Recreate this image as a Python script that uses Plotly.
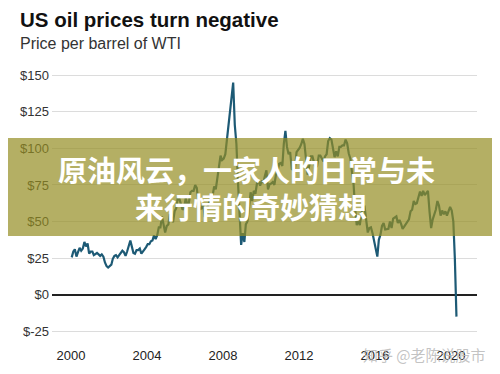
import pandas as pd
import plotly.graph_objects as go

# Monthly WTI price per barrel (USD), Jan 2000 .. Apr 2020
wti_2000 = [25.5, 29.5, 31, 26, 29, 32, 30, 31.5, 36, 33, 35, 28]
wti_2001 = [29.5, 29.5, 27, 27.5, 28.5, 27.5, 26.5, 27.5, 26, 22, 19.5, 18.5]
wti_2002 = [19.5, 20.5, 24.5, 26.5, 27, 25.5, 27, 28.5, 30, 29, 26.5, 29.5]
wti_2003 = [33, 37, 33, 28.5, 28, 30.5, 30.5, 31.5, 28, 30, 31, 32.5]
wti_2004 = [34.5, 34.5, 36.5, 37, 40.5, 38, 40.5, 46, 46, 53.5, 48.5, 42.5]
wti_2005 = [47, 48, 55, 53, 49.5, 57, 59, 66, 65.5, 62, 58, 59.5]
wti_2006 = [66, 61.5, 62.5, 70, 71, 71, 75, 73, 63, 58.5, 59, 62]
wti_2007 = [53, 59, 60.5, 64, 63.5, 67.5, 74, 72, 80, 86, 95, 92]
wti_2008 = [93, 96, 106, 113, 126, 135, 145, 116, 103, 77, 55, 34]
wti_2009 = [42, 36, 48, 50, 59, 70, 64, 71, 69, 76, 78, 74.5]
wti_2010 = [78, 76.5, 81, 85, 72, 75.5, 76, 77, 75, 82, 84.5, 89.5]
wti_2011 = [90, 88, 103, 112, 101, 96, 97.5, 86, 85, 86, 97.5, 99]
wti_2012 = [100.5, 103, 106.5, 103, 94, 82, 88, 94.5, 94.5, 89.5, 86.5, 88]
wti_2013 = [95, 95, 93, 91, 94.5, 96, 105, 107, 106, 100.5, 94, 98]
wti_2014 = [94.5, 101, 101, 102, 102, 106, 103.5, 96.5, 93, 84, 75.5, 59]
wti_2015 = [47.5, 50.5, 47.5, 55, 59.5, 60, 51, 42.5, 45.5, 46, 42, 37]
wti_2016 = [31.5, 26, 37.5, 41, 47, 49, 44.5, 45, 45, 50, 45.5, 52]
wti_2017 = [52.5, 53.5, 49, 51, 48.5, 45, 46.5, 48, 50, 51.5, 57, 58]
wti_2018 = [64, 62, 62.5, 66.5, 70.5, 67.5, 71, 68, 70, 71, 56.5, 45.5]
wti_2019 = [51.5, 55, 58, 64, 61, 54, 57.5, 55, 57, 54, 57, 60]
wti_2020 = [57.5, 50, 25, -15]

prices = (wti_2000 + wti_2001 + wti_2002 + wti_2003 + wti_2004 + wti_2005 +
          wti_2006 + wti_2007 + wti_2008 + wti_2009 + wti_2010 + wti_2011 +
          wti_2012 + wti_2013 + wti_2014 + wti_2015 + wti_2016 + wti_2017 +
          wti_2018 + wti_2019 + wti_2020)
dates = pd.date_range("2000-01-01", periods=len(prices), freq="MS") + pd.Timedelta(days=14)

y_ticks = [-25, 0, 25, 50, 75, 100, 125, 150]
y_tick_text = ["$-25", "$0", "$25", "$50", "$75", "$100", "$125", "$150"]
x_tick_years = ["2000", "2004", "2008", "2012", "2016", "2020"]

title = "US oil prices turn negative"
subtitle = "Price per barrel of WTI"
banner_line1 = "原油风云，一家人的日常与未"
banner_line2 = "来行情的奇妙猜想"
watermark = "知乎 @老陈说股市"

# the page adds an 8px body margin, so the figure is drawn 8px in from the window corner
O = 8
W, H = 500 - O, 374 - O
L, R, T, B = 52 - O, 23, 65 - O, 34
PW, PH = W - L - R, H - T - B

def px(x):  # window pixel -> paper x
    return (x - O - L) / PW

def py(y):  # window pixel -> paper y
    return (H - B - (y - O)) / PH

fig = go.Figure()
fig.add_trace(go.Scatter(
    x=dates, y=prices, mode="lines",
    line=dict(color="#1d5a75", width=2.2),
    hoverinfo="skip", showlegend=False,
))

base_font = "Liberation Sans, Arial, sans-serif"
cjk_font = "Noto Sans CJK SC, sans-serif"

fig.update_layout(
    width=W, height=H,
    margin=dict(l=L, r=R, t=T, b=B),
    paper_bgcolor="white", plot_bgcolor="white",
    font=dict(family=base_font, size=13, color="#333333"),
    xaxis=dict(
        type="date",
        range=["1999-01-01", "2021-05-15"],
        tickvals=[y + "-01-01" for y in x_tick_years],
        ticktext=x_tick_years,
        showgrid=False, zeroline=False, showline=False, ticks="",
        ticklabelstandoff=6, automargin=False,
        tickfont=dict(size=13, color="#222222"),
    ),
    yaxis=dict(
        range=[-31, 157],
        tickvals=y_ticks, ticktext=y_tick_text,
        showgrid=True, gridcolor="#dcdcdc", gridwidth=1,
        zeroline=True, zerolinecolor="#222222", zerolinewidth=1.6,
        showline=False, ticks="", automargin=False,
        ticklabelstandoff=2,
        tickfont=dict(size=13, color="#333333"),
    ),
    shapes=[dict(
        type="rect", xref="paper", yref="paper", layer="above",
        x0=px(O), x1=px(500), y0=py(236), y1=py(138),
        fillcolor="rgba(148,141,34,0.7)", line=dict(width=0),
    )],
    annotations=[
        dict(text="<b>" + title + "</b>", xref="paper", yref="paper",
             x=px(18), y=py(19), xanchor="left", yanchor="middle",
             showarrow=False, font=dict(family=base_font, size=20.5, color="#111111")),
        dict(text=subtitle, xref="paper", yref="paper",
             x=px(18), y=py(44), xanchor="left", yanchor="middle",
             showarrow=False, font=dict(family=base_font, size=16, color="#333333")),
        dict(text="<b>" + banner_line1 + "</b>", xref="paper", yref="paper",
             x=px(246), y=py(169), xanchor="center", yanchor="middle",
             showarrow=False, font=dict(family=cjk_font, size=29, color="white")),
        dict(text="<b>" + banner_line2 + "</b>", xref="paper", yref="paper",
             x=px(251), y=py(206), xanchor="center", yanchor="middle",
             showarrow=False, font=dict(family=cjk_font, size=29, color="white")),
        dict(text=watermark, xref="paper", yref="paper",
             x=px(488), y=py(354), xanchor="right", yanchor="middle",
             showarrow=False, font=dict(family=cjk_font, size=15, color="rgba(185,185,185,0.85)")),
    ],
)

fig.write_html("out.html")
